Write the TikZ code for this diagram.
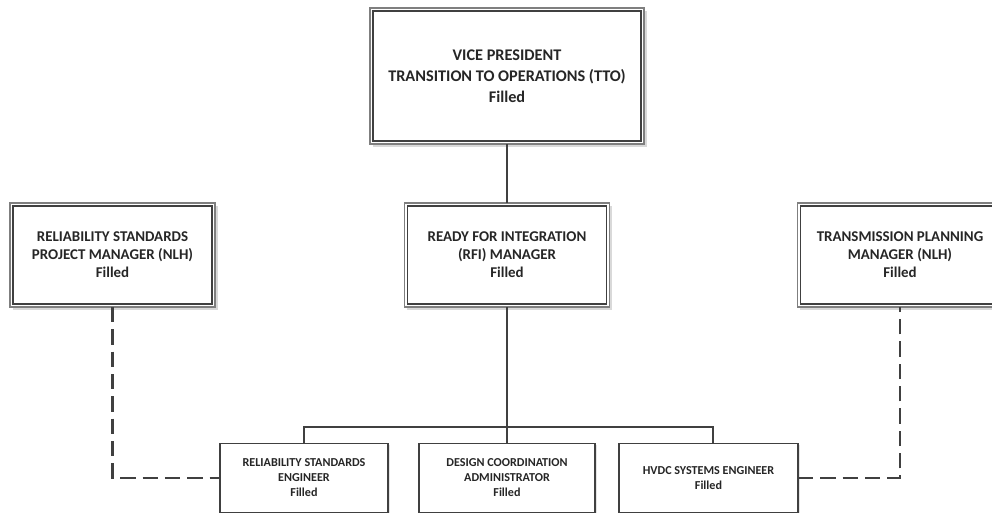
\documentclass[tikz,border=0pt]{standalone}
\usepackage{fontspec}
\setmainfont{Carlito}
\usetikzlibrary{shadows,calc}
\definecolor{linec}{HTML}{404040}
\definecolor{outerc}{HTML}{7F7F7F}
\definecolor{shadc}{HTML}{D9D9D9}
\tikzset{
  bigbox/.style={draw=outerc, line width=0.9pt, fill=white, inner sep=0pt, outer sep=0pt,
    align=center, font=\bfseries\fontsize{11.2}{13.5}\selectfont, text=black!85,
    minimum width=153.75pt, minimum height=78pt,
    drop shadow={shadow xshift=2.2pt, shadow yshift=-2.2pt, fill=shadc, opacity=1}},
  vpbox/.style={bigbox, minimum width=205.5pt, minimum height=102pt,
    font=\bfseries\fontsize{12.2}{15.75}\selectfont},
  smallbox/.style={draw=linec, line width=0.8pt, fill=white, inner sep=0pt, outer sep=0pt,
    align=center, font=\bfseries\fontsize{9.1}{11.25}\selectfont, text=black!85,
    minimum height=52pt,
    drop shadow={shadow xshift=1.5pt, shadow yshift=-1.5pt, fill=shadc!70, opacity=1}},
  innerline/.style={draw=linec, line width=0.8pt},
  conn/.style={draw=linec, line width=1.6pt},
  dconn/.style={draw=linec, line width=1.6pt, dash pattern=on 11.5pt off 5.25pt}
}
\begin{document}
\begin{tikzpicture}[x=0.75pt, y=-0.75pt]
\useasboundingbox (0,0) rectangle (992,512);
\fill[white] (0,0) rectangle (992,512);
\clip (0,0) rectangle (992,512);
\node[vpbox] (vp) at (507,76) {VICE PRESIDENT\\TRANSITION TO OPERATIONS (TTO)\\Filled};
\node[bigbox] (left) at (112.5,255) {RELIABILITY STANDARDS\\PROJECT MANAGER (NLH)\\Filled};
\node[bigbox] (rfi) at (507,255) {READY FOR INTEGRATION\\(RFI) MANAGER\\Filled};
\node[bigbox] (right) at (900,255) {TRANSMISSION PLANNING\\MANAGER (NLH)\\Filled};
\foreach \n in {vp,left,rfi,right}{
  \draw[innerline] ([shift={(3,3)}]\n.north west) rectangle ([shift={(-3,-3)}]\n.south east);
}
\node[smallbox, minimum width=126pt] (b1) at (304,478) {RELIABILITY STANDARDS\\ENGINEER\\Filled};
\node[smallbox, minimum width=132pt] (b2) at (507,478) {DESIGN COORDINATION\\ADMINISTRATOR\\Filled};
\node[smallbox, minimum width=134.25pt] (b3) at (708.5,478) {HVDC SYSTEMS ENGINEER\\Filled};
\draw[conn] (vp.south) -- (rfi.north);
\draw[conn] (rfi.south) -- (b2.north);
\draw[conn] (b1.north) -- ++(0,-16) coordinate (busl) -| ([xshift=3.4pt]b3.north);
\draw[dconn] (left.south) |- (b1.west);
\draw[dconn] (b3.east) -| (right.south);
\end{tikzpicture}
\end{document}
